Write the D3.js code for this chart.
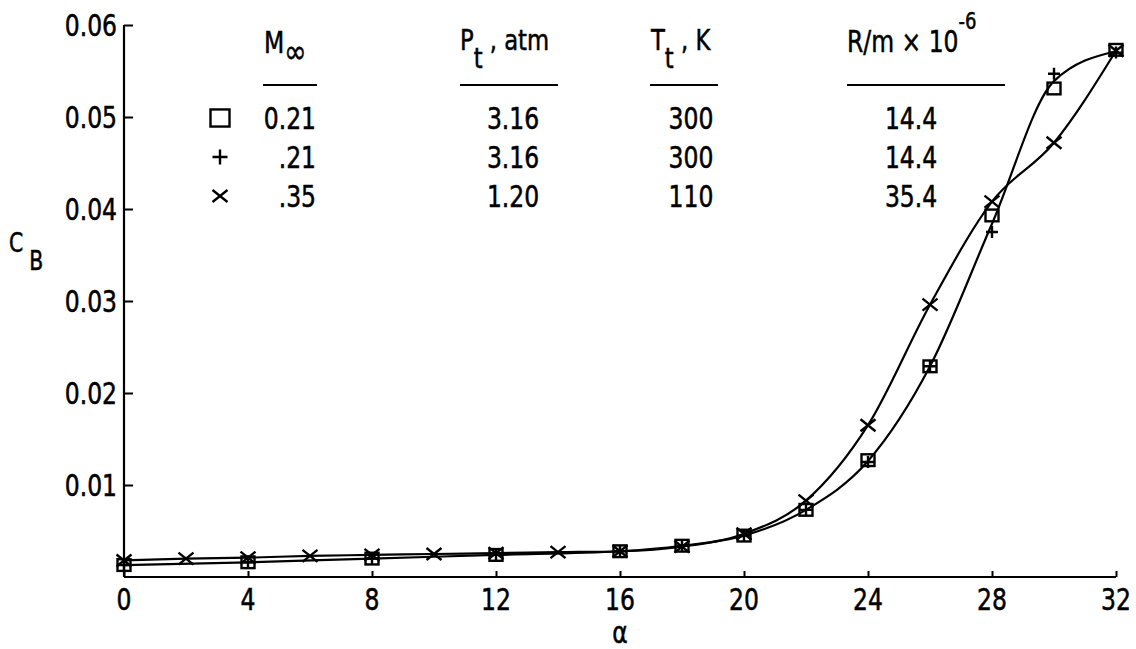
<!DOCTYPE html>
<html>
<head>
<meta charset="utf-8">
<script src="https://cdn.jsdelivr.net/npm/d3@7"></script>
<style>
  html, body { margin: 0; padding: 0; background: #fff; }
  svg { display: block; }
  text { font-family: "DejaVu Sans", sans-serif; font-stretch: condensed; fill: #000; stroke: #000; stroke-width: 0.5; }
</style>
</head>
<body>
<svg id="chart" width="1136" height="649"></svg>
<script>
// Base drag coefficient C_B versus angle of attack alpha
const alphaSquare = [0, 4, 8, 12, 16, 18, 20, 22, 24, 26, 28, 30, 32];
const cbSquare    = [0.0013, 0.0016, 0.0020, 0.0024, 0.0028, 0.0034, 0.0045, 0.0073, 0.0127, 0.0229, 0.0393, 0.0531, 0.0573];

const alphaPlus = [0, 4, 8, 12, 16, 18, 20, 22, 24, 26, 28, 30, 32];
const cbPlus    = [0.0013, 0.0016, 0.0020, 0.0024, 0.0028, 0.0034, 0.0045, 0.0073, 0.0125, 0.0229, 0.0375, 0.0547, 0.0570];

const alphaCross = [0, 2, 4, 6, 8, 10, 12, 14, 16, 18, 20, 22, 24, 26, 28, 30, 32];
const cbCross    = [0.0018, 0.0020, 0.0021, 0.0023, 0.0024, 0.0025, 0.0026, 0.0027, 0.0028, 0.0033, 0.0047, 0.0083, 0.0165, 0.0296, 0.0408, 0.0472, 0.0572];

const xTicks = [0, 4, 8, 12, 16, 20, 24, 28, 32];
const yTicks = [0.01, 0.02, 0.03, 0.04, 0.05, 0.06];
const yTickLabels = ["0.01", "0.02", "0.03", "0.04", "0.05", "0.06"];

// Legend table
const legendSymbols = ["square", "plus", "cross"];
const legendMach = ["0.21", ".21", ".35"];
const legendPt   = ["3.16", "3.16", "1.20"];
const legendTt   = ["300", "300", "110"];
const legendRe   = ["14.4", "14.4", "35.4"];

const svg = d3.select("#chart");
const x = d3.scaleLinear().domain([0, 32]).range([124, 1116]);
const y = d3.scaleLinear().domain([0, 0.06]).range([577, 25]);

const ink = "#000";
const narrow = 0.87; // horizontal squeeze of the lettering

// Text placed at (px, py), squeezed horizontally about its anchor point
function label(g, px, py, str, size, anchor) {
  return g.append("text")
    .attr("transform", `translate(${px},${py}) scale(${narrow},1)`)
    .attr("text-anchor", anchor || "start")
    .attr("font-size", size)
    .text(str);
}

// Axes
const xAxis = d3.axisBottom(x).tickValues(xTicks).tickSize(-6).tickFormat("");
const gx = svg.append("g").attr("transform", `translate(0,${y(0)})`).call(xAxis);
gx.select(".domain").attr("d", `M${x(0)},0H${x(32)}`).attr("stroke", ink).attr("stroke-width", 2.2);
gx.selectAll(".tick line").attr("stroke", ink).attr("stroke-width", 2);

const yAxis = d3.axisLeft(y).tickValues(yTicks).tickSize(-9).tickFormat("");
const gy = svg.append("g").attr("transform", `translate(${x(0)},0)`).call(yAxis);
gy.select(".domain").attr("d", `M0,${y(0)}V${y(0.06)}`).attr("stroke", ink).attr("stroke-width", 2.2);
gy.selectAll(".tick line").attr("stroke", ink).attr("stroke-width", 2);

// Tick labels
const gxl = svg.append("g");
xTicks.forEach(t => label(gxl, x(t), 610, String(t), 30, "middle"));
const gyl = svg.append("g");
yTicks.forEach((t, i) => label(gyl, 117, y(t) + 11, yTickLabels[i], 30, "end"));

// Axis titles
label(svg, x(16), 643, "α", 30, "middle");
const cb = label(svg, 9, 252, "", 26);
cb.append("tspan").text("C");
cb.append("tspan").attr("dx", 7).attr("dy", 18).text("B");

// Faired curves
const line = d3.line().x(d => x(d[0])).y(d => y(d[1])).curve(d3.curveMonotoneX);
const fairLow = alphaSquare.map((a, i) => [a, (cbSquare[i] + cbPlus[i]) / 2]);
const fairCross = alphaCross.map((a, i) => [a, cbCross[i]]);
svg.append("path").attr("d", line(fairLow)).attr("fill", "none").attr("stroke", ink).attr("stroke-width", 2.2);
svg.append("path").attr("d", line(fairCross)).attr("fill", "none").attr("stroke", ink).attr("stroke-width", 2.2);

// Marker shapes
function drawMarker(g, kind, cx, cy, s) {
  const h = s / 2;
  if (kind === "square") {
    g.append("rect").attr("x", cx - h).attr("y", cy - h * 0.9).attr("width", s).attr("height", s * 0.9)
      .attr("fill", "none").attr("stroke", ink).attr("stroke-width", 2.4);
  } else if (kind === "plus") {
    g.append("path").attr("d", `M${cx - h},${cy}H${cx + h}M${cx},${cy - h}V${cy + h}`)
      .attr("stroke", ink).attr("stroke-width", 2.4);
  } else {
    g.append("path").attr("d", `M${cx - h},${cy - h * 0.8}L${cx + h},${cy + h * 0.8}M${cx + h},${cy - h * 0.8}L${cx - h},${cy + h * 0.8}`)
      .attr("stroke", ink).attr("stroke-width", 2.4);
  }
}

const gm = svg.append("g");
alphaSquare.forEach((a, i) => drawMarker(gm, "square", x(a), y(cbSquare[i]), 13));
alphaPlus.forEach((a, i) => drawMarker(gm, "plus", x(a), y(cbPlus[i]), 12));
alphaCross.forEach((a, i) => drawMarker(gm, "cross", x(a), y(cbCross[i]), 15));

// Legend table
const rowY = [129, 168, 207];
const gl = svg.append("g");
legendSymbols.forEach((k, i) => drawMarker(gl, k, 220, rowY[i] - 11, k === "square" ? 19 : 15));

function column(values, xPos, anchor) {
  values.forEach((v, i) => label(gl, xPos, rowY[i], v, 30, anchor));
}
column(legendMach, 316, "end");
column(legendPt, 513, "middle");
column(legendTt, 691, "middle");
column(legendRe, 911, "middle");

// Column headers
const hM = label(gl, 264, 53, "", 30);
hM.append("tspan").text("M");
hM.append("tspan").attr("dy", 10).attr("font-size", 34).text("∞");

const hP = label(gl, 460, 50, "", 29);
hP.append("tspan").text("P");
hP.append("tspan").attr("dy", 18).text("t");
hP.append("tspan").attr("dy", -18).text(" , atm");

const hT = label(gl, 651, 50, "", 29);
hT.append("tspan").text("T");
hT.append("tspan").attr("dy", 18).text("t");
hT.append("tspan").attr("dy", -18).text(" , K");

const hR = label(gl, 847, 52, "", 30);
hR.append("tspan").text("R/m × 10");
hR.append("tspan").attr("dy", -23).attr("font-size", 23).text("-6");

// Header underlines
const rules = [[263, 317], [460, 558], [650, 718], [847, 1005]];
gl.selectAll("line.rule").data(rules).join("line").attr("class", "rule")
  .attr("x1", d => d[0]).attr("x2", d => d[1]).attr("y1", 85).attr("y2", 85)
  .attr("stroke", ink).attr("stroke-width", 2.2);
</script>
</body>
</html>
